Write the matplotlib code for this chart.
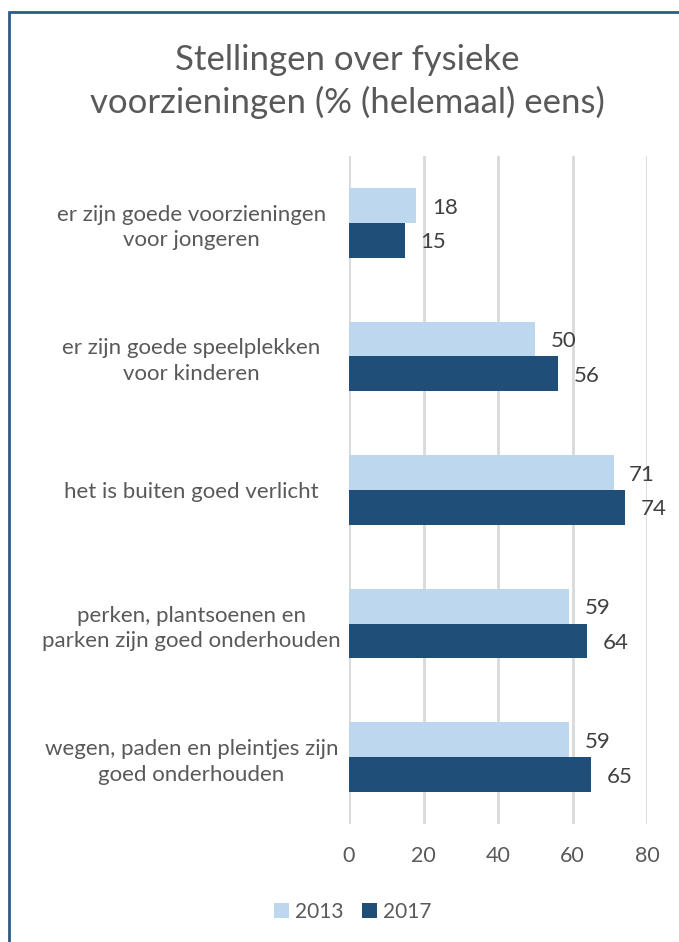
import matplotlib.pyplot as plt
import numpy as np
from matplotlib.patches import Rectangle

plt.rcParams['font.family'] = ['Lato', 'DejaVu Sans']

categories = ['er zijn goede voorzieningen\nvoor jongeren',
              'er zijn goede speelplekken\nvoor kinderen',
              'het is buiten goed verlicht',
              'perken, plantsoenen en\nparken zijn goed onderhouden',
              'wegen, paden en pleintjes zijn\ngoed onderhouden']
vals_2013 = [18, 50, 71, 59, 59]
vals_2017 = [15, 56, 74, 64, 65]
years = ['2013', '2017']
ticks = [0, 20, 40, 60, 80]

c13 = '#BDD7EE'
c17 = '#1F4E79'
txt = '#595959'

fig = plt.figure(figsize=(6.79, 9.42), dpi=100)
ax = fig.add_axes([0.514, 0.1253, 0.439, 0.709])

y = np.arange(len(categories))
h = 0.26
b1 = ax.barh(y - h/2, vals_2013, height=h, color=c13, label=years[0], zorder=3)
b2 = ax.barh(y + h/2, vals_2017, height=h, color=c17, label=years[1], zorder=3)

for bars in (b1, b2):
    for r in bars:
        w = r.get_width()
        ax.text(w + 4.2, r.get_y() + r.get_height()/2 + 0.015, str(int(w)),
                va='center', ha='left', fontsize=16, color='#404040')

ax.set_xlim(0, 80)
ax.set_ylim(len(categories) - 0.5, -0.5)
ax.set_xticks(ticks)
ax.set_xticklabels([str(t) for t in ticks], fontsize=15.5, color=txt)
ax.set_yticks(y)
ax.set_yticklabels(categories, fontsize=16, color=txt, ha='center',
                   linespacing=1.35)
ax.tick_params(axis='y', length=0, pad=113.5)
ax.tick_params(axis='x', length=0, pad=16)
ax.grid(axis='x', color='#D9D9D9', linewidth=2, zorder=0)
for s in ax.spines.values():
    s.set_visible(False)

fig.text(0.512, 0.9135, 'Stellingen over fysieke\nvoorzieningen (% (helemaal) eens)',
         ha='center', va='center', fontsize=25, color=txt, linespacing=1.35)

leg = fig.legend(loc='center', bbox_to_anchor=(0.52, 0.032), ncol=2, frameon=False,
                 fontsize=15, handlelength=0.7, handleheight=0.7,
                 handletextpad=0.3, columnspacing=0.9, labelcolor=txt)

# outer border
fig.patches.append(Rectangle((8.5/679, -0.01), 1.0, 1 - 12/942 + 0.01,
                             transform=fig.transFigure, fill=False,
                             edgecolor='#2E5C8A', linewidth=2))

fig.savefig('out.png', dpi=100)
